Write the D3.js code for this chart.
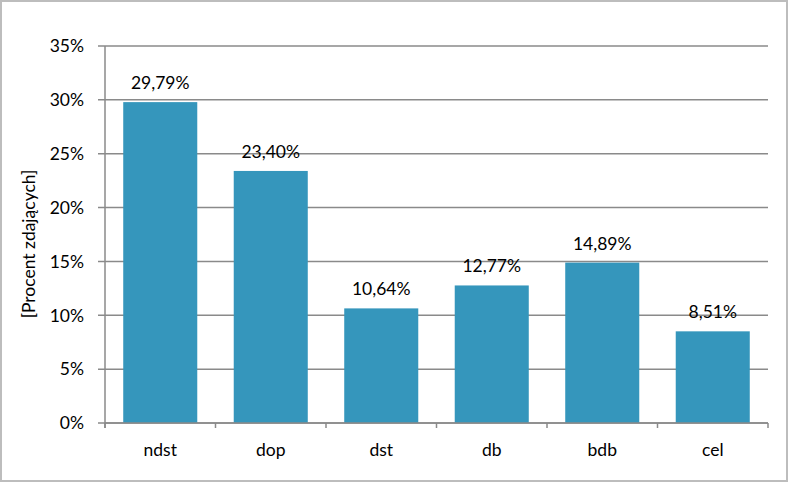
<!DOCTYPE html>
<html><head><meta charset="utf-8">
<script src="https://cdn.jsdelivr.net/npm/d3@7"></script>
<style>body{margin:0;background:#fff}svg{display:block}text{font-family:Lato,"Open Sans",sans-serif}</style>
</head><body>
<script>
const categories = ["ndst","dop","dst","db","bdb","cel"];
const values = [29.79, 23.40, 10.64, 12.77, 14.89, 8.51];
const yTicks = [0,5,10,15,20,25,30,35];
const yTitle = "[Procent zdających]";

const W=788,H=482,FS=17.5;
const m={left:105,right:20,top:46,bottom:59};
const svg=d3.select("body").append("svg").attr("width",W).attr("height",H);
svg.append("rect").attr("x",1).attr("y",1).attr("width",W-2).attr("height",H-2).attr("fill","#fff").attr("stroke","#bdbdbd").attr("stroke-width",2);
const x=d3.scaleBand().domain(categories).range([m.left,W-m.right]).paddingInner(0.33).paddingOuter(0.165);
const y=d3.scaleLinear().domain([0,35]).range([H-m.bottom,m.top]);
const fmt=v=>v.toFixed(2).replace(".",",")+"%";
const grid="#8a8a8a";
svg.append("g").selectAll("line").data(yTicks).join("line")
 .attr("x1",m.left-7).attr("x2",W-m.right).attr("y1",d=>y(d)).attr("y2",d=>y(d))
 .attr("stroke",grid).attr("stroke-width",1.5);
svg.append("g").selectAll("text").data(yTicks).join("text")
 .attr("x",m.left-21).attr("y",d=>y(d)).attr("dy","0.36em").attr("text-anchor","end")
 .attr("font-size",FS).attr("fill","#000").text(d=>d+"%");
svg.append("g").selectAll("rect").data(values).join("rect")
 .attr("x",(d,i)=>x(categories[i])).attr("width",x.bandwidth())
 .attr("y",d=>y(d)).attr("height",d=>y(0)-y(d)).attr("fill","#3596BC");
svg.append("g").selectAll("text").data(values).join("text")
 .attr("x",(d,i)=>x(categories[i])+x.bandwidth()/2).attr("y",d=>y(d)-13)
 .attr("text-anchor","middle").attr("font-size",FS).attr("fill","#000").text(fmt);
svg.append("line").attr("x1",m.left).attr("x2",m.left).attr("y1",m.top).attr("y2",y(0)+5).attr("stroke",grid).attr("stroke-width",1.5);
const edges=d3.range(categories.length+1).map(i=>m.left+i*(W-m.right-m.left)/categories.length);
svg.append("g").selectAll("line").data(edges).join("line")
 .attr("x1",d=>d).attr("x2",d=>d).attr("y1",y(0)).attr("y2",y(0)+5).attr("stroke",grid).attr("stroke-width",1.5);
svg.append("line").attr("x1",m.left).attr("x2",W-m.right).attr("y1",y(0)).attr("y2",y(0)).attr("stroke",grid).attr("stroke-width",1.5);
svg.append("g").selectAll("text").data(categories).join("text")
 .attr("x",d=>x(d)+x.bandwidth()/2).attr("y",y(0)+33).attr("text-anchor","middle")
 .attr("font-size",FS).attr("fill","#000").text(d=>d);
svg.append("text").attr("transform",`translate(35,244) rotate(-90)`)
 .attr("text-anchor","middle").attr("font-size",FS).attr("fill","#000").text(yTitle);
</script>
</body></html>
